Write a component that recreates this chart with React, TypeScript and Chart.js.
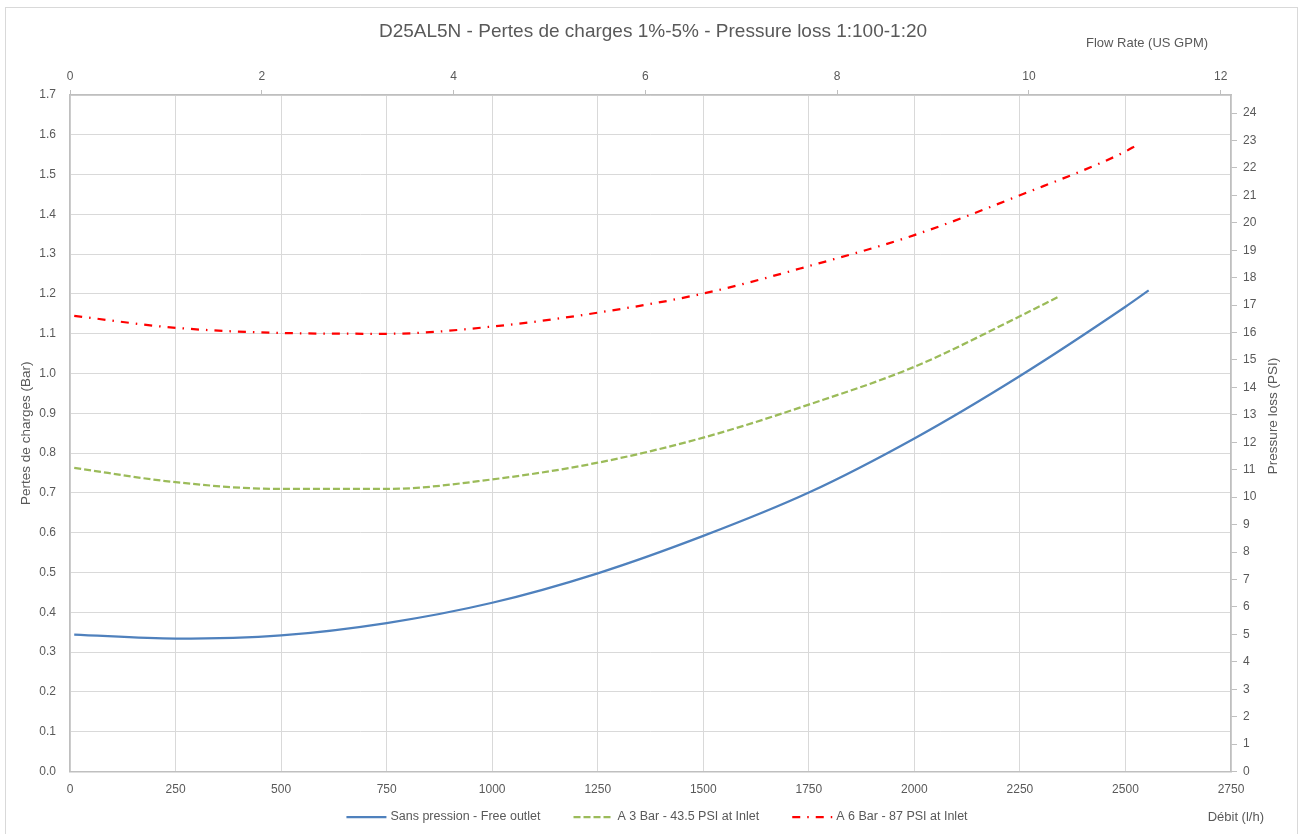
import React, { useEffect, useRef } from 'react';
import { Chart, registerables } from 'chart.js';

Chart.register(...registerables);

// ---- Data ----
const chartTitle = 'D25AL5N - Pertes de charges 1%-5% - Pressure loss 1:100-1:20';
const xTitle = 'Débit (l/h)';
const x2Title = 'Flow Rate (US GPM)';
const yTitle = 'Pertes de charges (Bar)';
const y2Title = 'Pressure loss (PSI)';

const seriesLabels = [
  'Sans pression - Free outlet',
  'A 3 Bar - 43.5 PSI at Inlet',
  'A 6 Bar - 87 PSI at Inlet',
];

const freeX = [10, 250, 500, 750, 1000, 1250, 1500, 1750, 2000, 2250, 2500, 2555];
const freeY = [0.344, 0.334, 0.342, 0.373, 0.424, 0.498, 0.592, 0.701, 0.837, 0.994, 1.168, 1.209];

const bar3X = [10, 250, 500, 750, 1000, 1250, 1500, 1750, 2000, 2250, 2341];
const bar3Y = [0.763, 0.727, 0.71, 0.71, 0.734, 0.776, 0.839, 0.922, 1.017, 1.144, 1.193];

const bar6X = [10, 250, 500, 750, 1000, 1250, 1500, 1750, 2000, 2250, 2500, 2525];
const bar6Y = [1.145, 1.115, 1.102, 1.1, 1.118, 1.153, 1.201, 1.27, 1.348, 1.448, 1.558, 1.573];

const X_MIN = 0;
const X_MAX = 2750;
const X_STEP = 250;
const Y_MIN = 0;
const Y_MAX = 1.7;
const Y_STEP = 0.1;
const LPH_PER_GPM = 227.125;
const PSI_PER_BAR = 14.5038;
const X2_STEP = 2;
const Y2_STEP = 1;

// ---- Style ----
const FONT = "'Liberation Sans', Arial, sans-serif";
const TEXT = '#595959';
const GRID = '#d9d9d9';
const AXIS = '#bfbfbf';
const colors = ['#4F81BD', '#9BBB59', '#FF0000'];
const dashes: number[][] = [[], [7, 3], [8, 7, 1.5, 7]];

const toPts = (xs: number[], ys: number[]) => xs.map((x, i) => ({ x, y: ys[i] }));

const decorPlugin = {
  id: 'decor',
  beforeDraw(chart: any) {
    const ctx = chart.ctx;
    ctx.save();
    ctx.fillStyle = '#ffffff';
    ctx.fillRect(0, 0, chart.width, chart.height);
    ctx.strokeStyle = GRID;
    ctx.lineWidth = 1;
    ctx.strokeRect(5.5, 7.5, 1292, 840);
    ctx.restore();
  },
  afterDraw(chart: any) {
    const ctx = chart.ctx;
    const area = chart.chartArea;
    ctx.save();
    ctx.fillStyle = TEXT;
    // title
    ctx.font = `19px ${FONT}`;
    ctx.textAlign = 'center';
    ctx.textBaseline = 'middle';
    ctx.fillText(chartTitle, 653, 32);
    // top axis title
    ctx.font = `13px ${FONT}`;
    ctx.fillText(x2Title, 1147, 43);
    // bottom axis title
    ctx.textAlign = 'right';
    ctx.fillText(xTitle, 1264, 817);
    // left axis title
    ctx.textAlign = 'center';
    ctx.font = `13.5px ${FONT}`;
    ctx.save();
    ctx.translate(26, (area.top + area.bottom) / 2);
    ctx.rotate(-Math.PI / 2);
    ctx.fillText(yTitle, 0, 0);
    ctx.restore();
    // right axis title
    ctx.save();
    ctx.translate(1273, 416);
    ctx.rotate(-Math.PI / 2);
    ctx.fillText(y2Title, 0, 0);
    ctx.restore();

    // legend
    ctx.font = `12.5px ${FONT}`;
    const ds = chart.data.datasets;
    const lineLen = 40;
    const gapText = 4;
    const gapItem = 33;
    const widths = ds.map((d: any) => ctx.measureText(d.label).width);
    const total = widths.reduce((a: number, w: number) => a + lineLen + gapText + w, 0) + gapItem * (ds.length - 1);
    let x = 657 - total / 2;
    const y = 817;
    ds.forEach((d: any, i: number) => {
      ctx.save();
      ctx.strokeStyle = d.borderColor;
      ctx.lineWidth = d.borderWidth;
      ctx.setLineDash(d.borderDash || []);
      ctx.beginPath();
      ctx.moveTo(x, y);
      ctx.lineTo(x + lineLen, y);
      ctx.stroke();
      ctx.restore();
      ctx.fillStyle = TEXT;
      ctx.textAlign = 'left';
      ctx.textBaseline = 'middle';
      ctx.fillText(d.label, x + lineLen + gapText, y);
      x += lineLen + gapText + widths[i] + gapItem;
    });
    ctx.restore();
  },
};

const keepWhole = (step: number) => (scale: any) => {
  scale.ticks = scale.ticks.filter((t: any) => Math.abs(t.value / step - Math.round(t.value / step)) < 1e-6);
};

export default function App() {
  const ref = useRef<HTMLCanvasElement | null>(null);

  useEffect(() => {
    if (!ref.current) return;
    const tickFont = { family: FONT, size: 12 };
    const chart = new Chart(ref.current, {
      type: 'scatter',
      data: {
        datasets: [
          { label: seriesLabels[0], data: toPts(freeX, freeY) },
          { label: seriesLabels[1], data: toPts(bar3X, bar3Y) },
          { label: seriesLabels[2], data: toPts(bar6X, bar6Y) },
        ].map((d, i) => ({
          ...d,
          showLine: true,
          borderColor: colors[i],
          backgroundColor: colors[i],
          borderWidth: 2.25,
          borderDash: dashes[i],
          borderCapStyle: 'butt',
          pointRadius: 0,
          pointHoverRadius: 0,
          cubicInterpolationMode: 'monotone',
          xAxisID: 'x',
          yAxisID: 'y',
          order: 3 - i,
        })) as any,
      },
      options: {
        responsive: false,
        animation: false,
        devicePixelRatio: 1,
        layout: { padding: 0 },
        plugins: {
          legend: { display: false },
          title: { display: false },
          tooltip: { enabled: false },
        },
        scales: {
          x: {
            type: 'linear',
            position: 'bottom',
            min: X_MIN,
            max: X_MAX,
            ticks: {
              stepSize: X_STEP, padding: 11, color: TEXT, font: tickFont, maxRotation: 0, autoSkip: false,
              callback: (v: any) => String(Math.round(Number(v))),
            },
            grid: { color: GRID, lineWidth: 1, drawTicks: false },
            border: { color: AXIS, width: 1.5 },
            afterFit: (s: any) => { s.height = 62.5; },
          },
          x2: {
            type: 'linear',
            position: 'top',
            min: X_MIN / LPH_PER_GPM,
            max: X_MAX / LPH_PER_GPM,
            ticks: {
              stepSize: X2_STEP, includeBounds: false, padding: 6, color: TEXT, font: tickFont, maxRotation: 0, autoSkip: false,
              callback: (v: any) => String(Math.round(Number(v))),
            },
            grid: { drawOnChartArea: false, drawTicks: true, tickLength: 5, color: AXIS },
            border: { color: AXIS, width: 1.5 },
            afterBuildTicks: keepWhole(X2_STEP),
            afterFit: (s: any) => { s.height = 95; },
          },
          y: {
            type: 'linear',
            position: 'left',
            min: Y_MIN,
            max: Y_MAX,
            ticks: { stepSize: Y_STEP, padding: 14, color: TEXT, font: tickFont, callback: (v: any) => Number(v).toFixed(1) },
            grid: { color: GRID, lineWidth: 1, drawTicks: false },
            border: { color: AXIS, width: 1.5 },
            afterFit: (s: any) => { s.width = 70; },
          },
          y2: {
            type: 'linear',
            position: 'right',
            min: Y_MIN * PSI_PER_BAR,
            max: Y_MAX * PSI_PER_BAR,
            ticks: {
              stepSize: Y2_STEP, includeBounds: false, padding: 6, color: TEXT, font: tickFont, autoSkip: false,
              callback: (v: any) => String(Math.round(Number(v))),
            },
            grid: { drawOnChartArea: false, drawTicks: true, tickLength: 6, color: AXIS },
            border: { color: AXIS, width: 1.5 },
            afterBuildTicks: keepWhole(Y2_STEP),
            afterFit: (s: any) => { s.width = 73; },
          },
        },
      } as any,
      plugins: [decorPlugin],
    });
    return () => chart.destroy();
  }, []);

  return (
    <div style={{ position: 'absolute', left: 0, top: 0, width: 1304, height: 834, background: '#fff' }}>
      <canvas ref={ref} width={1304} height={834} style={{ display: 'block', width: 1304, height: 834 }} />
    </div>
  );
}
